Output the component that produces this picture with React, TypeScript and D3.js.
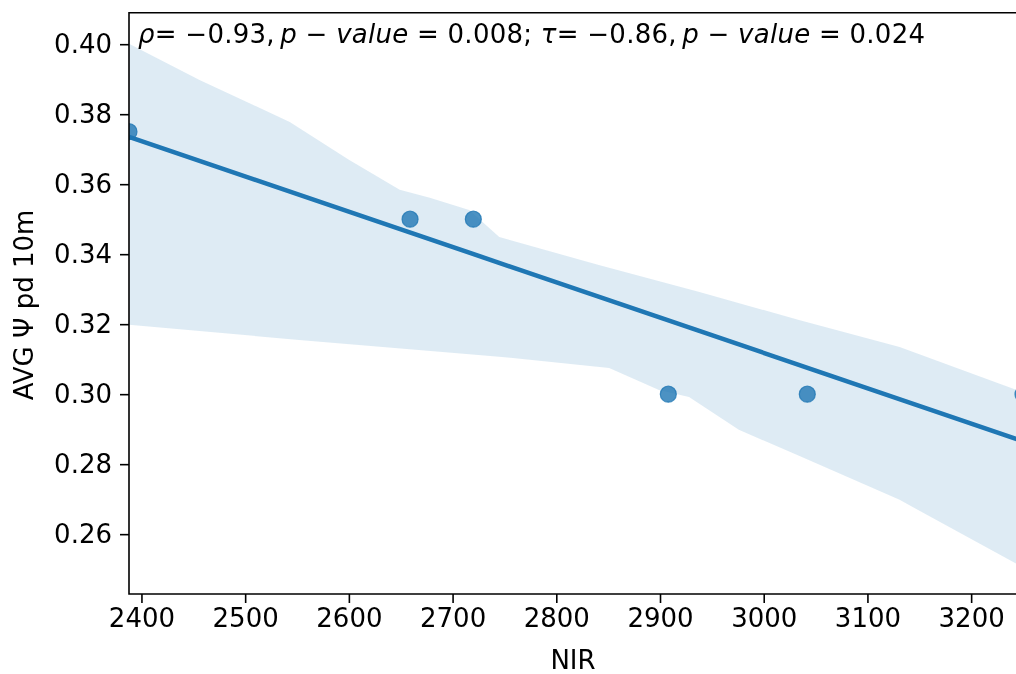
import { useEffect, useRef } from 'react';
import * as d3 from 'd3';

// scatter points (NIR vs AVG psi pd 10m)
const nirValues = [2388, 2659, 2720, 2908, 3042, 3250];
const psiValues = [0.375, 0.35, 0.35, 0.3, 0.3, 0.3];

// bootstrap confidence band
const ciUpperX = [2388, 2456, 2543, 2600, 2649, 2678, 2716, 2745, 2841, 2938, 3034, 3131, 3250];
const ciUpper = [0.4001, 0.3898, 0.3778, 0.367, 0.3584, 0.3561, 0.3526, 0.3449, 0.3369, 0.3292, 0.3212, 0.3135, 0.3005];
const ciLowerX = [2388, 2552, 2745, 2851, 2899, 2928, 2976, 3034, 3131, 3250];
const ciLower = [0.3198, 0.3155, 0.3107, 0.3075, 0.3012, 0.2992, 0.2898, 0.2824, 0.2698, 0.2505];

const xTicks = [2400, 2500, 2600, 2700, 2800, 2900, 3000, 3100, 3200];
const yTicks = [0.26, 0.28, 0.3, 0.32, 0.34, 0.36, 0.38, 0.4];

const C0 = '#1f77b4';
const FONT = 'DejaVu Sans';
const FS = 26;

function RegPlot() {
  const svgRef = useRef<SVGSVGElement>(null);

  useEffect(() => {
    const W = 1016;
    const H = 674;
    const left = 129;
    const right = 1023;
    const top = 12.7;
    const bottom = 594;

    const svg = d3.select(svgRef.current).attr('width', W).attr('height', H);
    svg.selectAll('*').remove();

    const x = d3.scaleLinear().domain([2388, 3250]).range([left, right]);
    const y = d3.scaleLinear().domain([0.2429, 0.409]).range([bottom, top]);

    svg
      .append('defs')
      .append('clipPath')
      .attr('id', 'plot-clip')
      .append('rect')
      .attr('x', left)
      .attr('y', top)
      .attr('width', right - left)
      .attr('height', bottom - top);

    const plot = svg.append('g').attr('clip-path', 'url(#plot-clip)');

    // CI band as a closed polygon: upper edge forward, lower edge back
    const bandPts: [number, number][] = [
      ...ciUpperX.map((d, i) => [x(d), y(ciUpper[i])] as [number, number]),
      ...ciLowerX
        .map((d, i) => [x(d), y(ciLower[i])] as [number, number])
        .reverse(),
    ];
    plot
      .append('path')
      .attr('d', d3.line()(bandPts) + 'Z')
      .attr('fill', C0)
      .attr('fill-opacity', 0.15);

    // least squares fit
    const mx = d3.mean(nirValues) as number;
    const my = d3.mean(psiValues) as number;
    const sxy = d3.sum(nirValues, (d, i) => (d - mx) * (psiValues[i] - my));
    const sxx = d3.sum(nirValues, d => (d - mx) ** 2);
    const slope = sxy / sxx;
    const fit = (v: number) => my + slope * (v - mx);
    const [x0, x1] = x.domain();

    plot
      .append('line')
      .attr('x1', x(x0))
      .attr('y1', y(fit(x0)))
      .attr('x2', x(x1))
      .attr('y2', y(fit(x1)))
      .attr('stroke', C0)
      .attr('stroke-width', 4.5);

    plot
      .selectAll('.pt')
      .data(nirValues)
      .enter()
      .append('circle')
      .attr('class', 'pt')
      .attr('cx', d => x(d))
      .attr('cy', (d, i) => y(psiValues[i]))
      .attr('r', 8)
      .attr('fill', C0)
      .attr('fill-opacity', 0.8)
      .attr('stroke', C0)
      .attr('stroke-opacity', 0.8)
      .attr('stroke-width', 1.2);

    // x axis
    const xAxis = svg
      .append('g')
      .attr('transform', `translate(0,${bottom})`)
      .call(d3.axisBottom(x).tickValues(xTicks).tickSize(9).tickPadding(6).tickFormat(d3.format('d')));
    xAxis.select('.domain').remove();
    xAxis.selectAll('line').attr('stroke', '#000').attr('stroke-width', 1.6);
    xAxis.selectAll('text').attr('font-family', FONT).attr('font-size', FS).attr('fill', '#000');

    // y axis
    const yAxis = svg
      .append('g')
      .attr('transform', `translate(${left},0)`)
      .call(d3.axisLeft(y).tickValues(yTicks).tickSize(9).tickPadding(8).tickFormat(d3.format('.2f')));
    yAxis.select('.domain').remove();
    yAxis.selectAll('line').attr('stroke', '#000').attr('stroke-width', 1.6);
    yAxis.selectAll('text').attr('font-family', FONT).attr('font-size', FS).attr('fill', '#000');

    // spines (right one falls outside the picture)
    svg
      .append('path')
      .attr('d', `M${right},${top}H${left}V${bottom}H${right}`)
      .attr('fill', 'none')
      .attr('stroke', '#000')
      .attr('stroke-width', 1.6);

    svg
      .append('text')
      .attr('x', (left + right) / 2 - 3)
      .attr('y', 669)
      .attr('text-anchor', 'middle')
      .attr('font-family', FONT)
      .attr('font-size', FS)
      .text('NIR');

    svg
      .append('text')
      .attr('transform', `translate(33,305) rotate(-90)`)
      .attr('text-anchor', 'middle')
      .attr('font-family', FONT)
      .attr('font-size', FS)
      .text('AVG Ψ pd 10m');

    // stats annotation (mathtext style)
    const ann = svg
      .append('text')
      .attr('x', 138)
      .attr('y', 43)
      .attr('font-family', FONT)
      .attr('font-size', FS)
      .attr('textLength', 787)
      .attr('lengthAdjust', 'spacing');
    const parts: [string, boolean][] = [
      ['ρ', true],
      ['= −0.93,\u2009', false],
      ['p', true],
      [' − ', false],
      ['value', true],
      [' = 0.008; ', false],
      ['τ', true],
      ['= −0.86,\u2009', false],
      ['p', true],
      [' − ', false],
      ['value', true],
      [' = 0.024', false],
    ];
    parts.forEach(([t, it]) => {
      ann
        .append('tspan')
        .attr('font-style', it ? 'italic' : 'normal')
        .text(t);
    });
  }, []);

  return <svg ref={svgRef} style={{ position: 'fixed', left: 0, top: 0, display: 'block' }} />;
}

export default function App() {
  return <RegPlot />;
}
